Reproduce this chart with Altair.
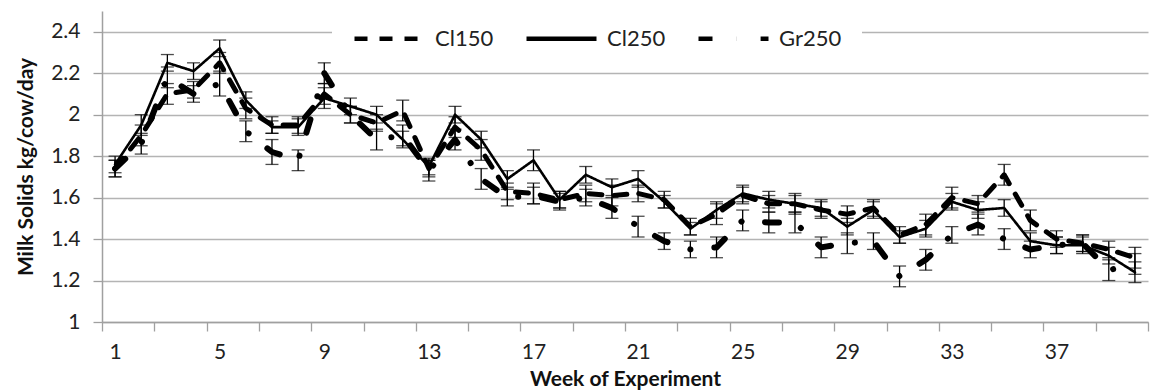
import altair as alt
import pandas as pd

weeks = list(range(1, 41))
series_names = ["Cl150", "Cl250", "Gr250"]

cl150 = [1.74, 1.90, 2.10, 2.12, 2.25, 2.03, 1.95, 1.95, 2.10, 2.00,
         1.96, 2.02, 1.74, 1.94, 1.83, 1.63, 1.62, 1.59, 1.62, 1.61,
         1.62, 1.59, 1.46, 1.52, 1.61, 1.57, 1.57, 1.54, 1.52, 1.55,
         1.42, 1.47, 1.60, 1.57, 1.71, 1.49, 1.40, 1.38, 1.35, 1.31]
cl250 = [1.76, 1.95, 2.25, 2.21, 2.32, 2.07, 1.94, 1.94, 2.08, 2.04,
         2.00, 1.88, 1.75, 2.00, 1.88, 1.69, 1.78, 1.59, 1.71, 1.65,
         1.69, 1.58, 1.45, 1.54, 1.62, 1.59, 1.57, 1.55, 1.46, 1.54,
         1.41, 1.45, 1.58, 1.54, 1.55, 1.39, 1.37, 1.37, 1.32, 1.24]
gr250 = [1.74, 1.86, 2.18, 2.10, 2.15, 1.92, 1.82, 1.78, 2.20, 2.00,
         1.88, 1.90, 1.73, 1.88, 1.69, 1.60, 1.61, 1.58, 1.60, 1.55,
         1.46, 1.39, 1.35, 1.36, 1.49, 1.48, 1.48, 1.36, 1.38, 1.39,
         1.22, 1.30, 1.42, 1.47, 1.40, 1.35, 1.37, 1.38, 1.25, 1.28]

se_cl150 = [0.04, 0.05, 0.05, 0.04, 0.05, 0.05, 0.04, 0.04, 0.05, 0.04,
            0.04, 0.05, 0.04, 0.05, 0.05, 0.04, 0.05, 0.04, 0.04, 0.05,
            0.04, 0.04, 0.04, 0.05, 0.04, 0.04, 0.05, 0.04, 0.04, 0.04,
            0.04, 0.05, 0.05, 0.04, 0.05, 0.05, 0.04, 0.04, 0.04, 0.05]
se_cl250 = [0.04, 0.05, 0.04, 0.04, 0.04, 0.04, 0.03, 0.04, 0.05, 0.04,
            0.04, 0.04, 0.04, 0.04, 0.04, 0.04, 0.05, 0.04, 0.04, 0.04,
            0.04, 0.03, 0.03, 0.04, 0.04, 0.04, 0.04, 0.04, 0.04, 0.04,
            0.03, 0.04, 0.04, 0.04, 0.04, 0.04, 0.04, 0.04, 0.04, 0.05]
se_gr250 = [0.04, 0.05, 0.05, 0.04, 0.06, 0.05, 0.06, 0.05, 0.05, 0.04,
            0.05, 0.05, 0.05, 0.05, 0.05, 0.04, 0.04, 0.04, 0.04, 0.05,
            0.05, 0.04, 0.04, 0.05, 0.05, 0.05, 0.05, 0.05, 0.05, 0.04,
            0.05, 0.05, 0.04, 0.05, 0.05, 0.04, 0.04, 0.04, 0.05, 0.05]

y_ticks = [1.0, 1.2, 1.4, 1.6, 1.8, 2.0, 2.2, 2.4]
x_tick_marks = [w - 0.5 for w in weeks] + [40.5]

rows = []
for name, vals, ses in zip(series_names, [cl150, cl250, gr250], [se_cl150, se_cl250, se_gr250]):
    for w, v, s in zip(weeks, vals, ses):
        rows.append({"week": w, "series": name, "value": v, "lo": v - s, "hi": v + s})
df = pd.DataFrame(rows)

W = 1046
H = 311
FONT = "Lato"
line_widths = {"Cl150": 5, "Cl250": 2.6, "Gr250": 6}

x_enc = alt.X(
    "week:Q",
    scale=alt.Scale(domain=[0.5, 40.5], nice=False, zero=False),
    axis=alt.Axis(
        values=x_tick_marks,
        labelExpr="(datum.value - 0.5) % 4 == 0 && datum.value < 40 ? format(datum.value + 0.5, 'd') : ''",
        labelOffset=W / 40 / 2,
        labelFlush=False,
        labelOverlap=False,
        grid=False,
        tickSize=9,
        labelPadding=10,
        title="Week of Experiment",
        titlePadding=6,
    ),
)
y_scale = alt.Scale(domain=[1, 2.5], nice=False, zero=False)
y_axis = alt.Axis(
    values=y_ticks,
    format=".1~f",
    tickSize=9,
    labelPadding=13,
    title="Milk Solids kg/cow/day",
    titlePadding=14,
)
dash_enc = alt.StrokeDash(
    "series:N",
    scale=alt.Scale(domain=series_names, range=[[13, 12], [1, 0], [14, 24, 0.1, 24]]),
    legend=alt.Legend(
        title=None,
        orient="none",
        direction="horizontal",
        legendX=230,
        legendY=-30,
        fillColor="white",
        padding=20,
        symbolType="stroke",
        symbolSize=4900,
        symbolStrokeWidth=4.5,
        symbolStrokeColor="black",
        labelFontSize=22,
        labelFont=FONT,
        labelColor="#222222",
        labelOffset=8,
        columnPadding=23,
    ),
)

base = alt.Chart(df)

line_layers = []
for name in series_names:
    line_layers.append(
        base.transform_filter(alt.datum.series == name)
        .mark_line(stroke="black", strokeCap="round", strokeJoin="round", strokeWidth=line_widths[name])
        .encode(
            x=x_enc,
            y=alt.Y("value:Q", scale=y_scale, axis=y_axis),
            strokeDash=dash_enc,
        )
    )

err = base.mark_rule(color="black", strokeWidth=1.3).encode(
    x="week:Q", y=alt.Y("lo:Q", scale=y_scale), y2="hi:Q"
)
cap_lo = base.mark_tick(color="black", orient="horizontal", size=13, thickness=1.3).encode(
    x="week:Q", y=alt.Y("lo:Q", scale=y_scale)
)
cap_hi = base.mark_tick(color="black", orient="horizontal", size=13, thickness=1.3).encode(
    x="week:Q", y=alt.Y("hi:Q", scale=y_scale)
)

chart = (
    alt.layer(*line_layers, err, cap_lo, cap_hi)
    .properties(
        width=W,
        height=H,
        autosize=alt.AutoSizeParams(type="none"),
        padding={"left": 94, "top": 3, "right": 2, "bottom": 68},
    )
    .configure_view(stroke=None)
    .configure_axis(
        labelFont=FONT,
        labelFontSize=21,
        labelColor="#222222",
        titleFont=FONT,
        titleFontSize=21,
        titleFontWeight="bold",
        titleColor="#111111",
        domainColor="#a0a0a0",
        domainWidth=1.5,
        tickColor="#a0a0a0",
        tickWidth=1.3,
        gridColor="#b4b4b4",
        gridWidth=1.5,
    )
    .configure_legend(labelFont=FONT)
)

chart.save("out.html", embed_options={"renderer": "svg", "actions": False})
